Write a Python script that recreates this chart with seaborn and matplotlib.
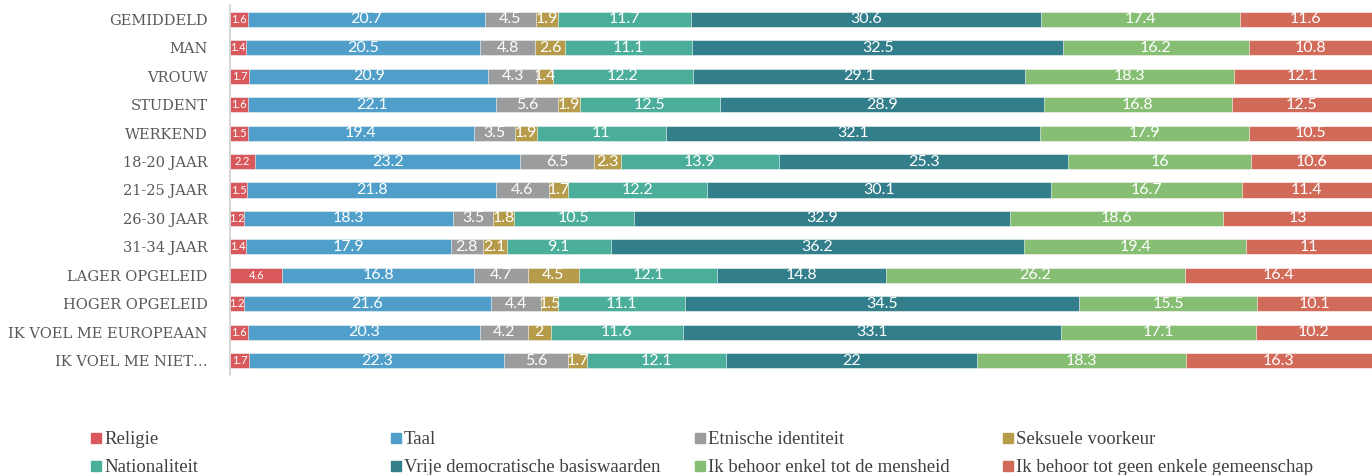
import numpy as np
import pandas as pd
import matplotlib
matplotlib.use("Agg")
import matplotlib.pyplot as plt
from matplotlib.lines import Line2D
import seaborn as sns

categories = [
    "GEMIDDELD", "MAN", "VROUW", "STUDENT", "WERKEND",
    "18-20 JAAR", "21-25 JAAR", "26-30 JAAR", "31-34 JAAR",
    "LAGER OPGELEID", "HOGER OPGELEID", "IK VOEL ME EUROPEAAN",
    "IK VOEL ME NIET…",
]
series_names = [
    "Religie", "Taal", "Etnische identiteit", "Seksuele voorkeur",
    "Nationaliteit", "Vrije democratische basiswaarden",
    "Ik behoor enkel tot de mensheid", "Ik behoor tot geen enkele gemeenschap",
]
religie = [1.6, 1.4, 1.7, 1.6, 1.5, 2.2, 1.5, 1.2, 1.4, 4.6, 1.2, 1.6, 1.7]
taal = [20.7, 20.5, 20.9, 22.1, 19.4, 23.2, 21.8, 18.3, 17.9, 16.8, 21.6, 20.3, 22.3]
etnisch = [4.5, 4.8, 4.3, 5.6, 3.5, 6.5, 4.6, 3.5, 2.8, 4.7, 4.4, 4.2, 5.6]
seksueel = [1.9, 2.6, 1.4, 1.9, 1.9, 2.3, 1.7, 1.8, 2.1, 4.5, 1.5, 2, 1.7]
nationaliteit = [11.7, 11.1, 12.2, 12.5, 11, 13.9, 12.2, 10.5, 9.1, 12.1, 11.1, 11.6, 12.1]
democratisch = [30.6, 32.5, 29.1, 28.9, 32.1, 25.3, 30.1, 32.9, 36.2, 14.8, 34.5, 33.1, 22]
mensheid = [17.4, 16.2, 18.3, 16.8, 17.9, 16, 16.7, 18.6, 19.4, 26.2, 15.5, 17.1, 18.3]
geen = [11.6, 10.8, 12.1, 12.5, 10.5, 10.6, 11.4, 13, 11, 16.4, 10.1, 10.2, 16.3]

colors = ["#d9585c", "#4f9fca", "#9a9c9e", "#b59b4a",
          "#4aae9a", "#337e8b", "#86bf73", "#d16a59"]

values = np.array([religie, taal, etnisch, seksueel, nationaliteit,
                   democratisch, mensheid, geen]).T
# 100% stacked: each row is scaled to its own total
shares = values / values.sum(axis=1, keepdims=True) * 100
cum = np.cumsum(shares, axis=1)

df = pd.DataFrame(cum, columns=series_names)
df["categorie"] = categories

sns.set_theme(style="white")
fig = plt.figure(figsize=(13.72, 4.75), dpi=100)
ax = fig.add_axes([230 / 1372, 1 - 375 / 475, 1 - 230 / 1372, 370 / 475])

# stacked bars: draw cumulative totals from the outermost segment inwards
for i in reversed(range(len(series_names))):
    sns.barplot(data=df, x=series_names[i], y="categorie", orient="h",
                color=colors[i], width=0.53, saturation=1,
                edgecolor="white", linewidth=0.4, ax=ax)

# value labels centred in each segment
for r in range(len(categories)):
    for i in range(len(series_names)):
        v = values[r, i]
        centre = cum[r, i] - shares[r, i] / 2
        size = 8 if i == 0 else 11.5
        ax.text(centre, r, f"{v:g}", ha="center", va="center",
                color="white", fontsize=size, family="Lato")

ax.set_xlim(0, 100)
ax.set_ylim(len(categories) - 0.5, -0.5)
ax.set_xlabel("")
ax.set_ylabel("")
ax.set_xticks([])
ax.set_yticks(range(len(categories)), categories,
              fontfamily="DejaVu Serif", fontsize=10.5, color="#595959")
for s in ["top", "right", "bottom"]:
    ax.spines[s].set_visible(False)
ax.spines["left"].set_color("#d0d0d0")
ax.spines["left"].set_linewidth(1.2)
ax.tick_params(axis="y", length=0, pad=16)

# legend: four columns, two rows
col_x = [90, 390, 694, 1002]
for j in range(4):
    handles = [Line2D([], [], marker="s", linestyle="none", markersize=7,
                      markerfacecolor=colors[k], markeredgecolor=colors[k],
                      label=series_names[k]) for k in (j, j + 4)]
    fig.legend(handles=handles, loc="upper left",
               bbox_to_anchor=(col_x[j] / 1372, 1 - 431 / 475),
               frameon=False, handlelength=0.6, handletextpad=0.15,
               labelspacing=0.6, borderpad=0, borderaxespad=0,
               prop={"family": "Liberation Serif", "size": 13.5},
               labelcolor="#404040")

fig.savefig("out.png", dpi=100)
